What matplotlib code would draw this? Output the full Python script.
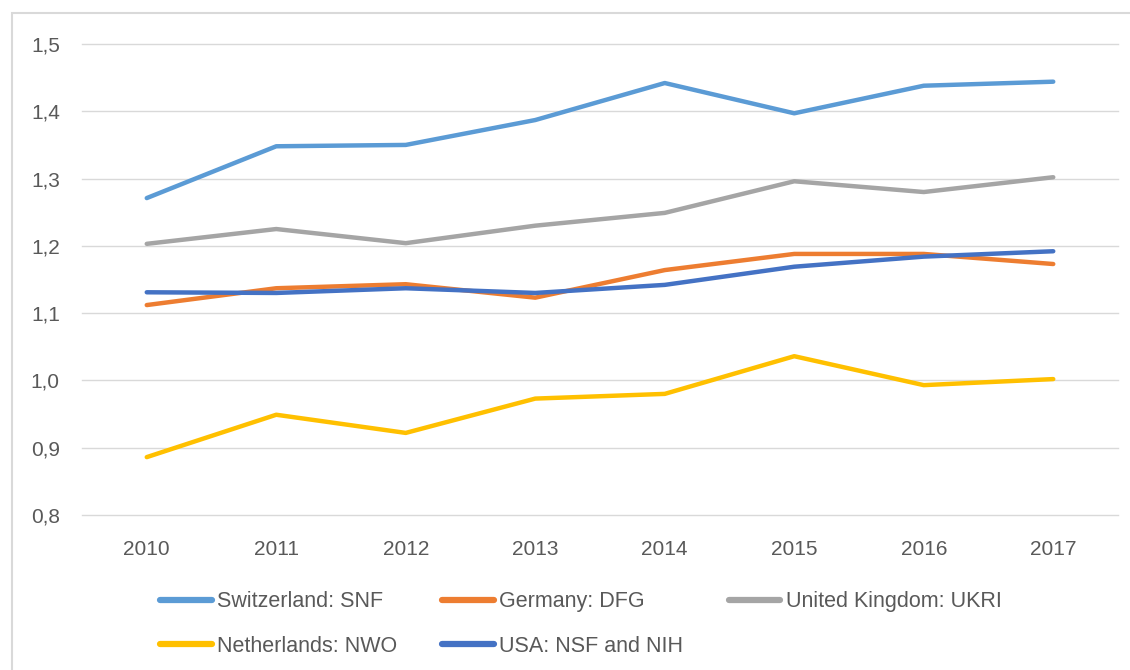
import matplotlib.pyplot as plt
from matplotlib.patches import Rectangle
from matplotlib.ticker import FuncFormatter
import numpy as np

# --- DATA ---
years = ["2010", "2011", "2012", "2013", "2014", "2015", "2016", "2017"]
snf = [1.271, 1.348, 1.350, 1.387, 1.442, 1.397, 1.438, 1.444]
dfg = [1.112, 1.137, 1.143, 1.123, 1.164, 1.188, 1.188, 1.173]
ukri = [1.203, 1.225, 1.204, 1.230, 1.249, 1.296, 1.280, 1.302]
nwo = [0.886, 0.949, 0.922, 0.973, 0.980, 1.036, 0.993, 1.002]
usa = [1.131, 1.130, 1.137, 1.130, 1.142, 1.169, 1.184, 1.192]

labels = ["Switzerland: SNF", "Germany: DFG", "United Kingdom: UKRI",
          "Netherlands: NWO", "USA: NSF and NIH"]
colors = ["#5B9BD5", "#ED7D31", "#A5A5A5", "#FFC000", "#4472C4"]
series = [snf, dfg, ukri, nwo, usa]

plt.rcParams['font.family'] = ['Liberation Sans', 'DejaVu Sans']
TXT = "#595959"

fig = plt.figure(figsize=(11.3, 6.7), dpi=100)
ax = fig.add_axes([82 / 1130, 1 - 515 / 670, 1036 / 1130, 471 / 670])

# outer chart frame
fig.patches.append(Rectangle((12 / 1130, -0.05), 1.2, 1 - 13 / 670 + 0.05,
                             transform=fig.transFigure, fill=False,
                             edgecolor="#D9D9D9", linewidth=1.5))

x = np.arange(len(years))
handles = []
for vals, lab, col in zip(series, labels, colors):
    h, = ax.plot(x, vals, color=col, linewidth=3.2, label=lab,
                 solid_capstyle='round', solid_joinstyle='round')
    handles.append(h)

ax.set_xlim(-0.5, len(years) - 0.5)
ax.set_ylim(0.8, 1.5)
ax.set_yticks(np.arange(0.8, 1.51, 0.1))
ax.yaxis.set_major_formatter(FuncFormatter(lambda v, p: f"{v:.1f}".replace(".", ",")))
ax.set_xticks(x)
ax.set_xticklabels(years)
ax.grid(axis='y', color="#D9D9D9", linewidth=1)
for gl in ax.get_ygridlines():
    gl.set_clip_on(False)
ax.set_axisbelow(True)
for s in ax.spines.values():
    s.set_visible(False)
ax.tick_params(length=0, labelsize=15, colors=TXT)
ax.tick_params(axis='y', pad=16)
ax.tick_params(axis='x', pad=18)

# legend: order so that rows read SNF, DFG, UKRI / NWO, USA
order = [0, 3, 1, 4, 2]
leg = fig.legend([handles[i] for i in order], [labels[i] for i in order],
                 ncol=3, loc='center left', bbox_to_anchor=(160 / 1130, 1 - 624 / 670),
                 frameon=False, fontsize=15.5, handlelength=2.4, handletextpad=0.25,
                 columnspacing=2.1, labelspacing=1.1, borderpad=0, borderaxespad=0)
for t in leg.get_texts():
    t.set_color(TXT)
for l in leg.get_lines():
    l.set_linewidth(4.5)

fig.savefig("out.png", dpi=100)
